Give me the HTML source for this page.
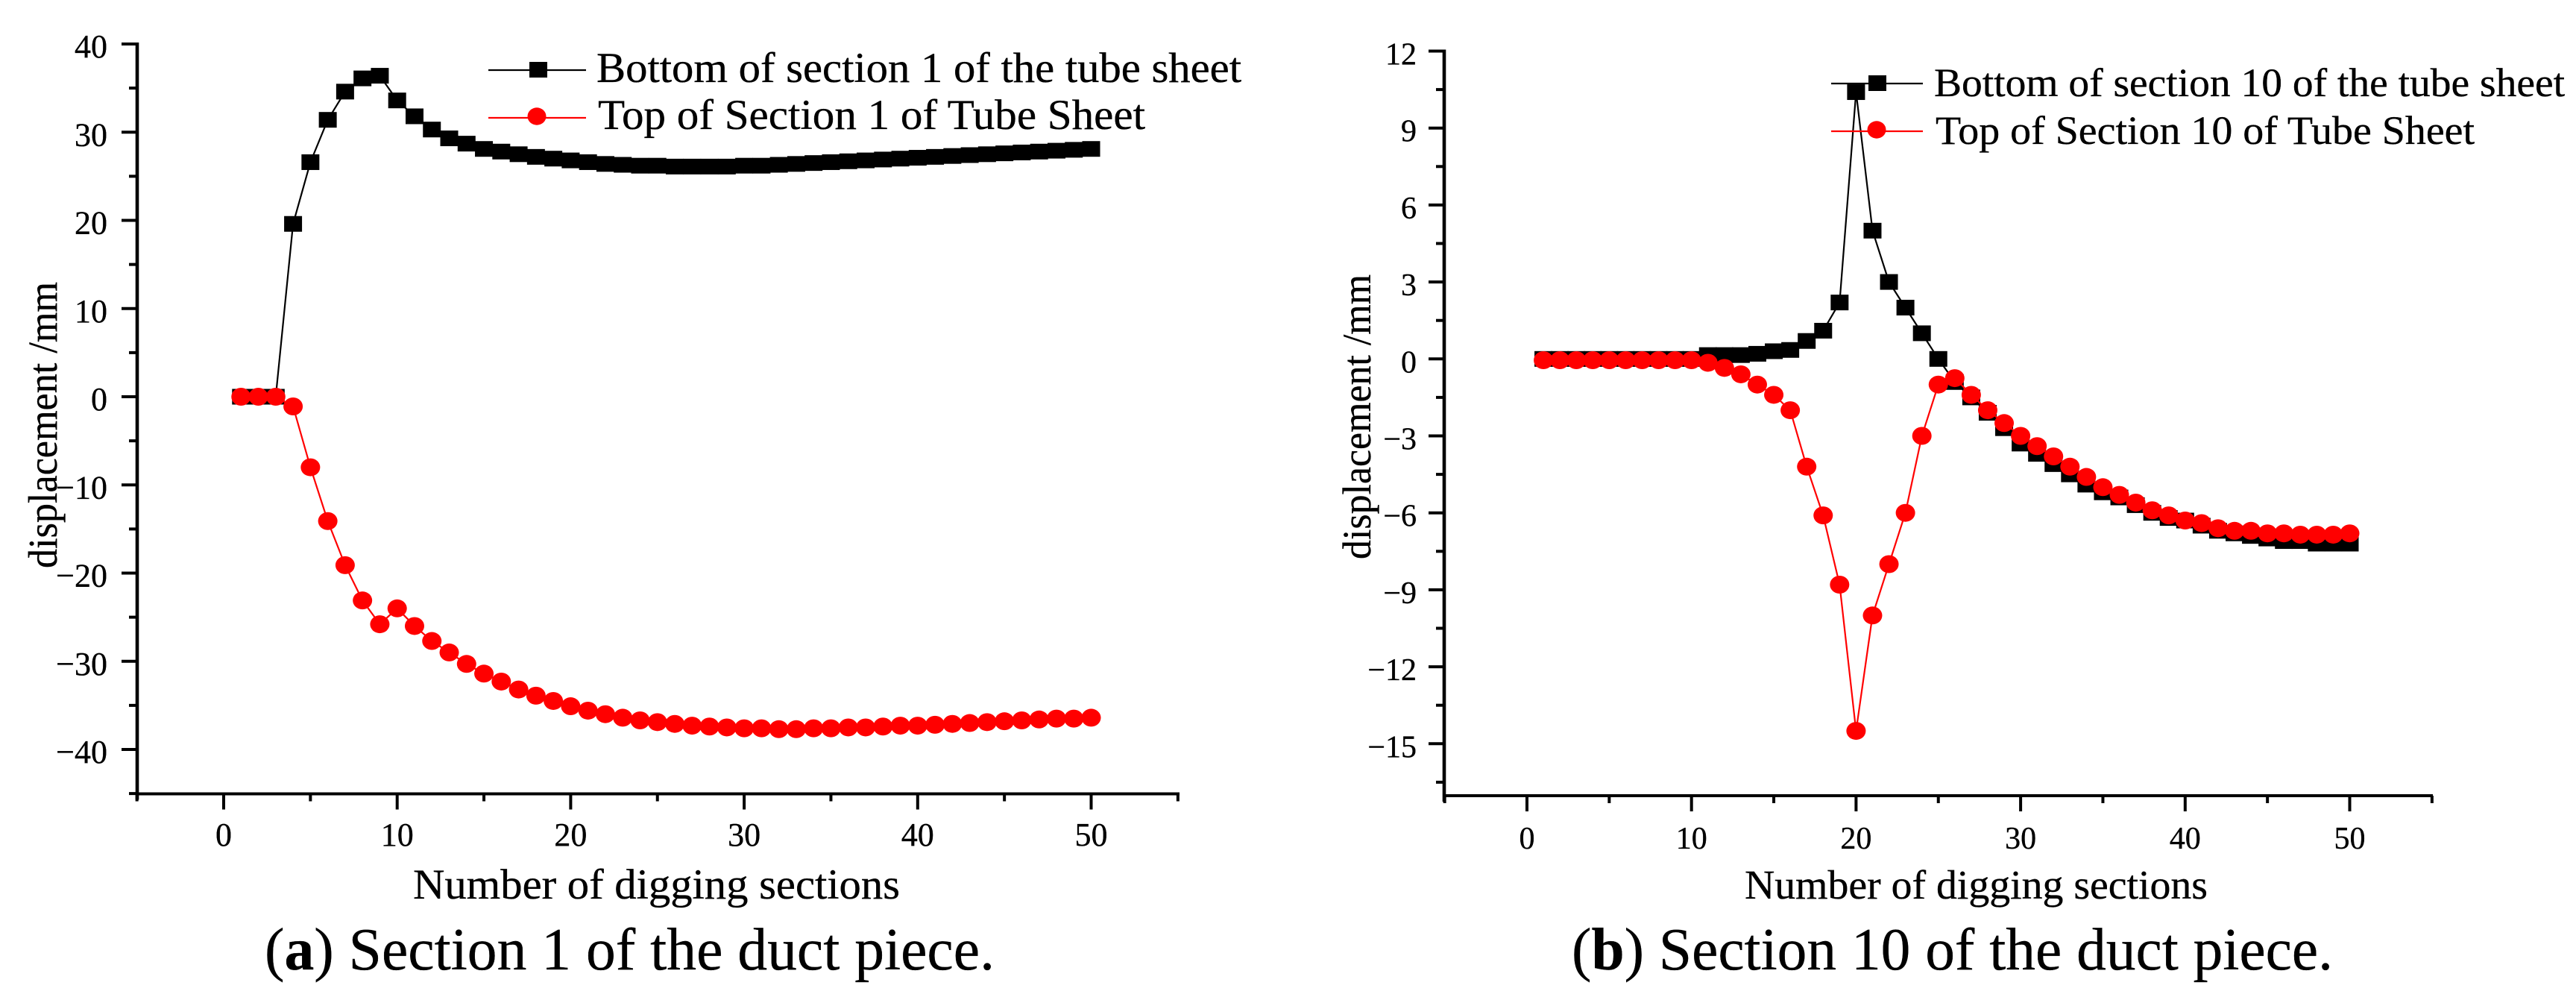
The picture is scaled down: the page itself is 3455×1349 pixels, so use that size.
<!DOCTYPE html>
<html lang="en">
<head>
<meta charset="utf-8">
<title>Tube sheet displacement charts</title>
<style>
html,body{margin:0;padding:0;background:#fff;}
svg{display:block;}
text{font-family:"Liberation Serif","Times New Roman",serif;fill:#000;stroke:#000;stroke-width:.35;}
</style>
</head>
<body>
<svg id="figure" xmlns="http://www.w3.org/2000/svg" width="3455" height="1349" viewBox="0 0 3455 1349">
  <rect width="3455" height="1349" fill="#fff"/>
  <g id="chartA"></g>
  <g id="chartB"></g>

  <text transform="translate(76,762) rotate(-90)" font-size="55" textLength="384" lengthAdjust="spacingAndGlyphs">displacement /mm</text>
  <text x="554" y="1205" font-size="57" textLength="653" lengthAdjust="spacingAndGlyphs">Number of digging sections</text>
  <text x="355" y="1300" font-size="80" textLength="979" lengthAdjust="spacingAndGlyphs">(<tspan font-weight="bold">a</tspan>) Section 1 of the duct piece.</text>
  <text x="800" y="110" font-size="57" textLength="865" lengthAdjust="spacingAndGlyphs">Bottom of section 1 of the tube sheet</text>
  <text x="802" y="173" font-size="57" textLength="734" lengthAdjust="spacingAndGlyphs">Top of Section 1 of Tube Sheet</text>

  <text transform="translate(1838,750) rotate(-90)" font-size="54" textLength="382" lengthAdjust="spacingAndGlyphs">displacement /mm</text>
  <text x="2340" y="1205" font-size="55" textLength="621" lengthAdjust="spacingAndGlyphs">Number of digging sections</text>
  <text x="2108" y="1300" font-size="80" textLength="1021" lengthAdjust="spacingAndGlyphs">(<tspan font-weight="bold">b</tspan>) Section 10 of the duct piece.</text>
  <text x="2594" y="129" font-size="54" textLength="846" lengthAdjust="spacingAndGlyphs">Bottom of section 10 of the tube sheet</text>
  <text x="2596" y="193" font-size="54" textLength="723" lengthAdjust="spacingAndGlyphs">Top of Section 10 of Tube Sheet</text>
</svg>
<script>
var sections = [1,2,3,4,5,6,7,8,9,10,11,12,13,14,15,16,17,18,19,20,21,22,23,24,25,26,27,28,29,30,31,32,33,34,35,36,37,38,39,40,41,42,43,44,45,46,47,48,49,50];
var bottomSection1 = [0,0,0,19.6,26.6,31.4,34.6,36.1,36.4,33.6,31.8,30.3,29.3,28.7,28.1,27.8,27.5,27.2,27,26.8,26.6,26.4,26.3,26.2,26.2,26.1,26.1,26.1,26.1,26.2,26.2,26.3,26.4,26.5,26.6,26.7,26.8,26.9,27,27.1,27.2,27.3,27.4,27.5,27.6,27.7,27.8,27.9,28,28.1];
var topSection1 = [0,0,0,-1.1,-8,-14.1,-19.1,-23.1,-25.8,-24,-26,-27.7,-29,-30.3,-31.4,-32.3,-33.2,-33.9,-34.5,-35.1,-35.6,-36,-36.4,-36.7,-36.9,-37.1,-37.3,-37.4,-37.5,-37.6,-37.6,-37.7,-37.7,-37.6,-37.6,-37.5,-37.5,-37.4,-37.3,-37.3,-37.2,-37.1,-37,-36.9,-36.8,-36.7,-36.6,-36.5,-36.5,-36.4];
var bottomSection10 = [0,0,0,0,0,0,0,0,0,0,0.15,0.15,0.15,0.2,0.3,0.35,0.7,1.1,2.2,10.4,5,3,2,1,0,-0.9,-1.5,-2.1,-2.7,-3.3,-3.7,-4.1,-4.5,-4.9,-5.2,-5.4,-5.7,-6,-6.2,-6.3,-6.5,-6.7,-6.8,-6.9,-7,-7.1,-7.1,-7.2,-7.2,-7.2];
var topSection10 = [-0.05,-0.05,-0.05,-0.05,-0.05,-0.05,-0.05,-0.05,-0.05,-0.05,-0.15,-0.35,-0.6,-1,-1.4,-2,-4.2,-6.1,-8.8,-14.5,-10,-8,-6,-3,-1,-0.75,-1.4,-2,-2.5,-3,-3.4,-3.8,-4.2,-4.6,-5,-5.3,-5.6,-5.9,-6.1,-6.3,-6.4,-6.6,-6.7,-6.7,-6.8,-6.8,-6.85,-6.85,-6.85,-6.8];
var xTickValues = [-5,0,5,10,15,20,25,30,35,40,45,50,55];
var xTickLabels = ["","0","","10","","20","","30","","40","","50",""];
var yTicksA = [40,35,30,25,20,15,10,5,0,-5,-10,-15,-20,-25,-30,-35,-40,-45];
var yLabelsA = ["40","","30","","20","","10","","0","","\u221210","","\u221220","","\u221230","","\u221240",""];
var yTicksB = [12,10.5,9,7.5,6,4.5,3,1.5,0,-1.5,-3,-4.5,-6,-7.5,-9,-10.5,-12,-13.5,-15,-16.5];
var yLabelsB = ["12","","9","","6","","3","","0","","\u22123","","\u22126","","\u22129","","\u221212","","\u221215",""];

var NS = 'http://www.w3.org/2000/svg';

function make(parent, tag, props) {
  var el = document.createElementNS(NS, tag);
  for (var k in props) { el.setAttribute(k, props[k]); }
  parent.appendChild(el);
  return el;
}

function drawMarkers(parent, kind, xs, ys, sx, sy, name) {
  for (var i = 0; i < xs.length; i++) {
    var el;
    if (kind === 'square') {
      el = make(parent, 'rect', {x: sx(xs[i]) - 12, y: sy(ys[i]) - 10.5, width: 24, height: 21, fill: '#000'});
    } else {
      el = make(parent, 'ellipse', {cx: sx(xs[i]), cy: sy(ys[i]), rx: 13, ry: 12, fill: '#f00'});
    }
    
    
  }
}

function drawSeries(parent, xs, ys, sx, sy, color, kind, name) {
  var pts = [];
  for (var i = 0; i < xs.length; i++) { pts.push(sx(xs[i]) + ',' + sy(ys[i])); }
  var line = make(parent, 'polyline', {points: pts.join(' '), fill: 'none', stroke: color, 'stroke-width': 2.2});
  
  
  drawMarkers(parent, kind, xs, ys, sx, sy, name + '-marker');
}

function drawAxes(parent, o) {
  var sx = o.sx, sy = o.sy, i;
  var yAxis = make(parent, 'line', {x1: o.left, x2: o.left, y1: sy(o.yTicks[0]) - 2, y2: o.bottom + 8, stroke: '#000', 'stroke-width': 4.6});
  
  
  var xAxis = make(parent, 'line', {x1: o.left, x2: o.right + 2, y1: o.bottom, y2: o.bottom, stroke: '#000', 'stroke-width': 4});
  
  

  for (i = 0; i < o.yTicks.length; i++) {
    var yv = o.yTicks[i], ylab = o.yLabels[i], major = ylab !== '';
    var yt = make(parent, 'line', {x1: o.left - (major ? 21 : 11), x2: o.left, y1: sy(yv), y2: sy(yv), stroke: '#000', 'stroke-width': 4});
    
    
    if (major) {
      var yl = make(parent, 'text', {x: o.yLabelX, y: sy(yv) + 18, 'text-anchor': 'end', 'font-size': o.tickFont});
      
      
      yl.textContent = ylab;
    }
  }
  for (i = 0; i < xTickValues.length; i++) {
    var xv = xTickValues[i], xlab = xTickLabels[i], xmajor = xlab !== '';
    var xt = make(parent, 'line', {x1: sx(xv), x2: sx(xv), y1: o.bottom, y2: o.bottom + (xmajor ? 21 : 10), stroke: '#000', 'stroke-width': 4});
    
    
    if (xmajor) {
      var xl = make(parent, 'text', {x: sx(xv), y: o.xLabelY, 'text-anchor': 'middle', 'font-size': o.tickFont});
      
      
      xl.textContent = xlab;
    }
  }
}

function drawLegendRow(parent, x1, x2, mx, y, color, kind, name) {
  var l = make(parent, 'line', {x1: x1, x2: x2, y1: y, y2: y, stroke: color, 'stroke-width': 2.2});
  
  
  var m;
  if (kind === 'square') {
    m = make(parent, 'rect', {x: mx - 12, y: y - 11, width: 24, height: 21, fill: color});
  } else {
    m = make(parent, 'ellipse', {cx: mx, cy: y - 2, rx: 12.5, ry: 11.7, fill: color});
  }
  
  
}

function scaleX(x0, perUnit) { return function (v) { return x0 + v * perUnit; }; }
function scaleY(y0, perUnit) { return function (v) { return y0 - v * perUnit; }; }

var gA = document.getElementById('chartA');
var sxA = scaleX(300, 23.27);
var syA = scaleY(532, 11.825);
drawSeries(gA, sections, bottomSection1, sxA, syA, '#000', 'square', 'bottom-section-1');
drawSeries(gA, sections, topSection1, sxA, syA, '#f00', 'circle', 'top-section-1');
drawAxes(gA, {sx: sxA, sy: syA, left: 184, right: 1580, bottom: 1064.5, yTicks: yTicksA, yLabels: yLabelsA, yLabelX: 144, xLabelY: 1134, tickFont: 44});
drawLegendRow(gA, 655, 786, 722, 94, '#000', 'square', 'legend-bottom-a');
drawLegendRow(gA, 655, 786, 720, 158, '#f00', 'circle', 'legend-top-a');

var gB = document.getElementById('chartB');
var sxB = scaleX(2048, 22.07);
var syB = scaleY(481.3, 34.4);
drawSeries(gB, sections, bottomSection10, sxB, syB, '#000', 'square', 'bottom-section-10');
drawSeries(gB, sections, topSection10, sxB, syB, '#f00', 'circle', 'top-section-10');
drawAxes(gB, {sx: sxB, sy: syB, left: 1937, right: 3261, bottom: 1067, yTicks: yTicksB, yLabels: yLabelsB, yLabelX: 1900, xLabelY: 1138, tickFont: 42});
drawLegendRow(gB, 2456, 2579, 2518, 112, '#000', 'square', 'legend-bottom-b');
drawLegendRow(gB, 2456, 2579, 2517, 176, '#f00', 'circle', 'legend-top-b');
</script>
</body>
</html>
